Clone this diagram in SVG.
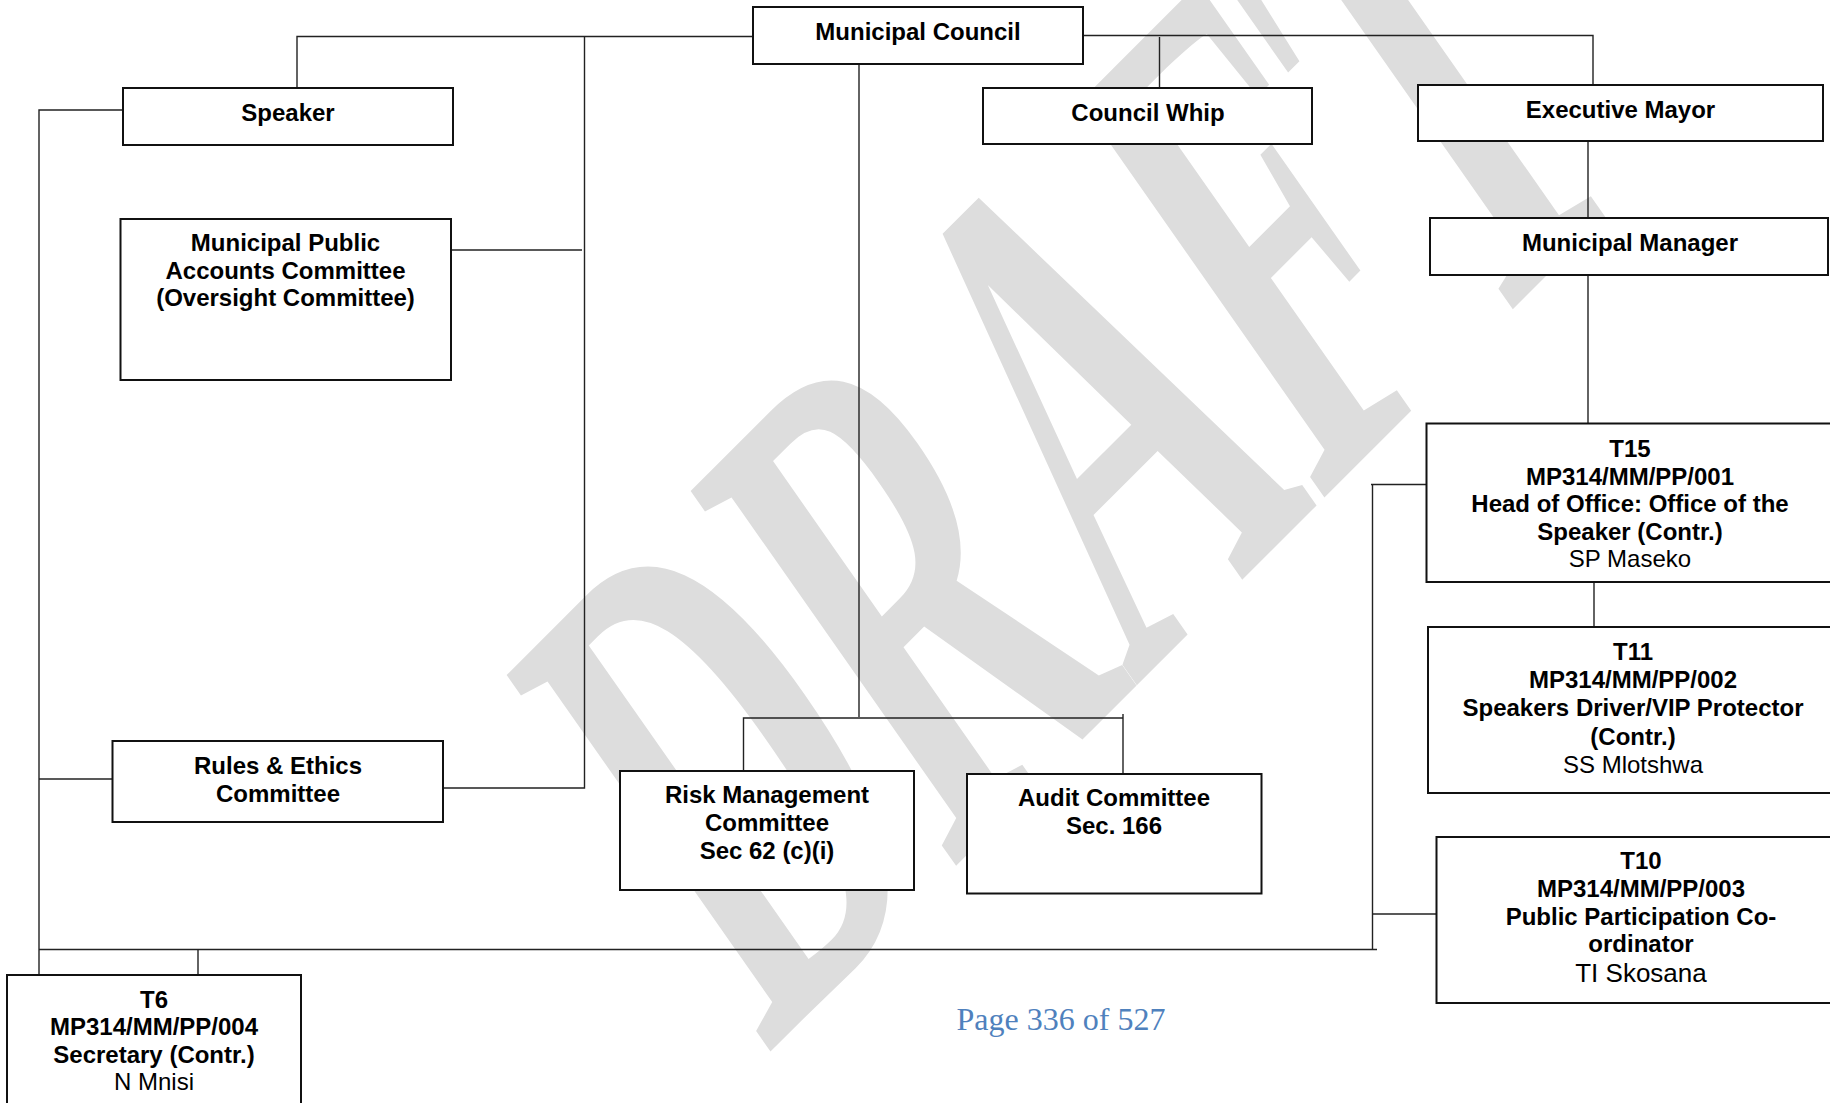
<svg xmlns="http://www.w3.org/2000/svg" width="1830" height="1103" viewBox="0 0 1830 1103">
<style>
  .box { fill: #ffffff; stroke: #111111; stroke-width: 2; }
  .ln { fill: none; stroke: #222222; stroke-width: 1.4; }
  .t { font-family: "Liberation Sans", Arial, sans-serif; font-size: 24px; font-weight: bold; fill: #000000; text-anchor: middle; }
  .n { font-weight: normal; }
  .wm { font-family: "Liberation Serif", "Times New Roman", serif; font-size: 100px; font-weight: bold; fill: #dddddd; }
  .pg { font-family: "Liberation Serif", "Times New Roman", serif; font-size: 32px; fill: #4f81bd; text-anchor: middle; }
</style>
<rect width="1830" height="1103" fill="#ffffff"/>

<!-- diagonal watermark -->
<text class="wm" transform="matrix(2.55 -2.55 4.03 5.75 766 1056)">DRAFT</text>

<!-- connectors -->
<g id="connectors" class="ln">
  <path d="M753 36.5 H297 V88"/>
  <path d="M584.5 36.5 V788 H443"/>
  <path d="M451 250 H582"/>
  <path d="M123 110 H39 V975"/>
  <path d="M39 779 H115"/>
  <path d="M39 949.5 H1377"/>
  <path d="M198 949.5 V975"/>
  <path d="M1372.5 949.5 V484.5"/>
  <path d="M1371 484.5 H1426"/>
  <path d="M1372.5 914 H1436"/>
  <path d="M859 64 V717"/>
  <path d="M743.5 771 V718 H1123"/>
  <path d="M1123 714 V774"/>
  <path d="M1083 35.5 H1593 V85"/>
  <path d="M1159.5 37 V88"/>
  <path d="M1588 142 V218"/>
  <path d="M1588 275 V423"/>
  <path d="M1594 582 V627"/>
</g>

<g id="municipal-council">
  <rect class="box" x="753" y="7" width="330" height="57"/>
  <text class="t" x="918" y="40">Municipal Council</text>
</g>

<g id="speaker">
  <rect class="box" x="123" y="88" width="330" height="57"/>
  <text class="t" x="288" y="121">Speaker</text>
</g>

<g id="council-whip">
  <rect class="box" x="983" y="88" width="329" height="56"/>
  <text class="t" x="1148" y="121">Council Whip</text>
</g>

<g id="executive-mayor">
  <rect class="box" x="1418" y="85" width="405" height="56"/>
  <text class="t" x="1620.5" y="118">Executive Mayor</text>
</g>

<g id="municipal-manager">
  <rect class="box" x="1430" y="218" width="398" height="57"/>
  <text class="t" x="1630" y="251">Municipal Manager</text>
</g>

<g id="mpac">
  <rect class="box" x="120.5" y="219" width="330.5" height="161"/>
  <text class="t" x="285.5" y="251">Municipal Public</text>
  <text class="t" x="285.5" y="278.5">Accounts Committee</text>
  <text class="t" x="285.5" y="306">(Oversight Committee)</text>
</g>

<g id="rules-ethics">
  <rect class="box" x="112.5" y="741" width="330.5" height="81"/>
  <text class="t" x="278" y="774">Rules &amp; Ethics</text>
  <text class="t" x="278" y="802">Committee</text>
</g>

<g id="risk-management">
  <rect class="box" x="620" y="771" width="294" height="119"/>
  <text class="t" x="767" y="803">Risk Management</text>
  <text class="t" x="767" y="831">Committee</text>
  <text class="t" x="767" y="859">Sec 62 (c)(i)</text>
</g>

<g id="audit-committee">
  <rect class="box" x="967" y="774" width="294.5" height="119.5"/>
  <text class="t" x="1114" y="806">Audit Committee</text>
  <text class="t" x="1114" y="834">Sec. 166</text>
</g>

<g id="t15">
  <rect class="box" x="1426.5" y="423.5" width="420" height="158.5"/>
  <text class="t" x="1630" y="457">T15</text>
  <text class="t" x="1630" y="485">MP314/MM/PP/001</text>
  <text class="t" x="1630" y="512">Head of Office: Office of the</text>
  <text class="t" x="1630" y="540">Speaker (Contr.)</text>
  <text class="t n" x="1630" y="567">SP Maseko</text>
</g>

<g id="t11">
  <rect class="box" x="1428" y="627" width="420" height="166"/>
  <text class="t" x="1633" y="660">T11</text>
  <text class="t" x="1633" y="688">MP314/MM/PP/002</text>
  <text class="t" x="1633" y="716">Speakers Driver/VIP Protector</text>
  <text class="t" x="1633" y="745">(Contr.)</text>
  <text class="t n" x="1633" y="773">SS Mlotshwa</text>
</g>

<g id="t10">
  <rect class="box" x="1436.5" y="837" width="420" height="166"/>
  <text class="t" x="1641" y="869">T10</text>
  <text class="t" x="1641" y="897">MP314/MM/PP/003</text>
  <text class="t" x="1641" y="925">Public Participation Co-</text>
  <text class="t" x="1641" y="952">ordinator</text>
  <text class="t n" x="1641" y="982" style="font-size:26px">TI Skosana</text>
</g>

<g id="t6">
  <rect class="box" x="7" y="975" width="294" height="140"/>
  <text class="t" x="154" y="1008">T6</text>
  <text class="t" x="154" y="1035">MP314/MM/PP/004</text>
  <text class="t" x="154" y="1063">Secretary (Contr.)</text>
  <text class="t n" x="154" y="1090">N Mnisi</text>
</g>

<text class="pg" x="1061" y="1030">Page 336 of 527</text>
</svg>
